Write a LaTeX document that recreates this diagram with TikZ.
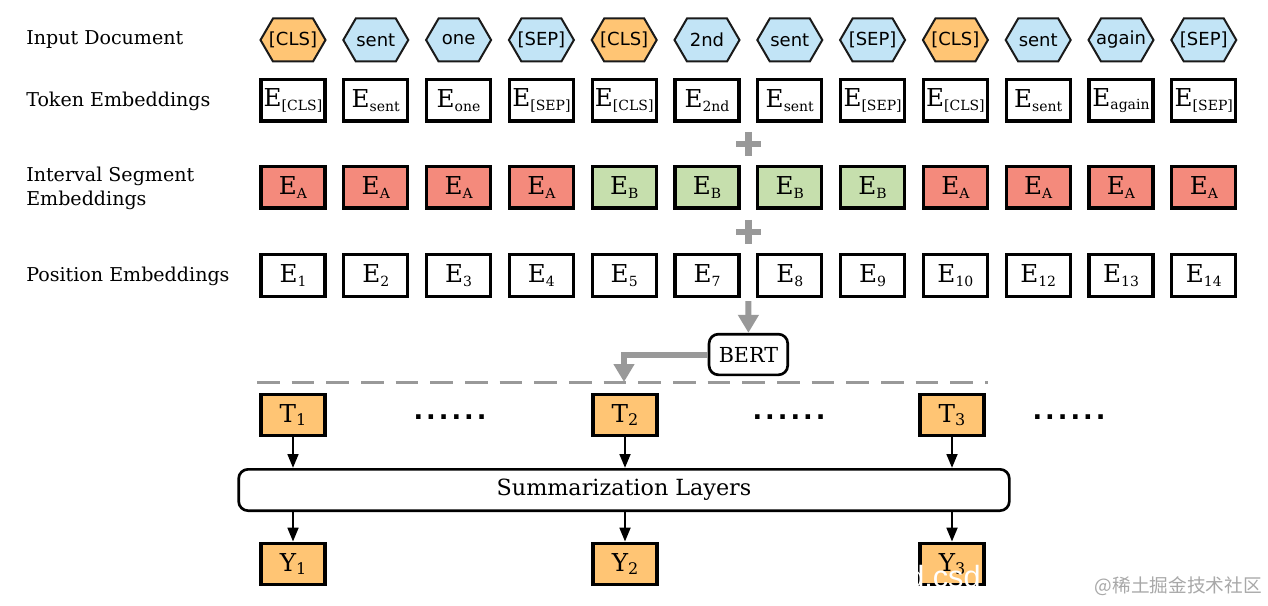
\documentclass[tikz,border=0pt]{standalone}
\usepackage{fontspec}
\setmainfont{DejaVu Serif}
\newfontfamily\hexfont{DejaVu Sans}
\newfontfamily\dotfont[LetterSpace=12]{DejaVu Sans}
\newfontfamily\cjkfont{Noto Sans CJK SC}
\newfontfamily\wmfont{Liberation Sans}
\usetikzlibrary{arrows.meta,calc}
\definecolor{orangeF}{HTML}{FFC574}
\definecolor{blueF}{HTML}{C2E4F6}
\definecolor{redF}{HTML}{F48A7C}
\definecolor{greenF}{HTML}{C6DFAD}
\definecolor{grayL}{HTML}{999999}
\definecolor{hexline}{HTML}{1A1A1A}
\definecolor{wmgray}{HTML}{A8A8A8}
\newcommand\Esub[2]{#1\raisebox{-2.8pt}{\fontsize{10.5}{13}\selectfont #2}}
\newcommand\Tsub[2]{#1\raisebox{-2.8pt}{\fontsize{12}{14}\selectfont #2}}
\begin{document}
\begin{tikzpicture}[x=0.75pt,y=-0.75pt,
  lbl/.style={anchor=west,font=\fontsize{14.3}{18}\selectfont,align=left,inner sep=0pt},
  ebox/.style={draw=black,line width=2.5pt,minimum width=48pt,minimum height=31pt,inner sep=0pt,font=\fontsize{18.5}{20}\selectfont},
  hexnode/.style={minimum width=50pt,minimum height=33pt,inner sep=0pt,font=\hexfont\fontsize{13.5}{16}\selectfont},
  hexshape/.style={draw=hexline,line width=1.5pt,line join=miter,fill=#1},
  garrow/.style={draw=grayL,line width=4.5pt,line join=miter,-{Triangle[length=13.5pt,width=15pt]}},
  barrow/.style={draw=black,line width=2pt,-{Triangle[length=10.5pt,width=8pt]}},
  rbox/.style={draw=black,line width=2pt,rounded corners=7pt,inner sep=0pt,fill=white},
  plusmark/.style={draw=grayL,line width=4.8pt},
  dotsnode/.style={font=\dotfont\bfseries\fontsize{19}{19}\selectfont,inner sep=0pt},
]
\useasboundingbox (0,0) rectangle (1268,606);
\fill[white] (0,0) rectangle (1268,606);

% row labels
\node[lbl] (l1) at (26,40) {Input Document};
\node[lbl] (l2) at (26,101) {Token Embeddings};
\node[lbl] (l3) at (26,188) {Interval Segment\\Embeddings};
\node[lbl] (l4) at (26,276) {Position Embeddings};

% columns
\foreach \i/\tok/\hc/\seg/\sc/\pos in {
  1/[CLS]/orangeF/A/redF/1,
  2/sent/blueF/A/redF/2,
  3/one/blueF/A/redF/3,
  4/[SEP]/blueF/A/redF/4,
  5/[CLS]/orangeF/B/greenF/5,
  6/2nd/blueF/B/greenF/7,
  7/sent/blueF/B/greenF/8,
  8/[SEP]/blueF/B/greenF/9,
  9/[CLS]/orangeF/A/redF/10,
  10/sent/blueF/A/redF/12,
  11/again/blueF/A/redF/13,
  12/[SEP]/blueF/A/redF/14}{
  \pgfmathsetmacro\xx{293+82.8*(\i-1)}
  \path[hexshape=\hc] (\xx-32.5,40) -- (\xx-20,18.5) -- (\xx+20,18.5) -- (\xx+32.5,40)
     -- (\xx+20,61.5) -- (\xx-20,61.5) -- cycle;
  \node[hexnode] (h\i) at (\xx,40) {\tok};
  \node[ebox] (t\i) at (\xx,100.5) {\Esub{E}{\tok}};
  \node[ebox,fill=\sc] (s\i) at (\xx,187.5) {\Esub{E}{\seg}};
  \node[ebox] (p\i) at (\xx,275.5) {\Esub{E}{\pos}};
}

% plus signs
\draw[plusmark] (748.4,132) -- (748.4,156) (736,144) -- (761,144);
\draw[plusmark] (748.4,220) -- (748.4,244) (736,232) -- (761,232);

% BERT
\coordinate (pm) at ($(p6.south)!0.5!(p7.south)$);
\node[rbox,minimum width=59pt,minimum height=30.5pt,font=\fontsize{15.5}{18}\selectfont] (bert) at (748.4,354.5) {BERT};
\draw[garrow] ([yshift=-2.5pt]pm) -- (bert.north);
\coordinate (dT) at (624,382);
\draw[grayL,line width=2.25pt,dash pattern=on 17pt off 9pt] (257,382) -- (988,382);
\draw[garrow] (bert.west) -| (dT);

% T boxes
\node[ebox,fill=orangeF] (T1) at (293,415) {\Tsub{T}{1}};
\node[ebox,fill=orangeF] (T2) at (625,415) {\Tsub{T}{2}};
\node[ebox,fill=orangeF] (T3) at (952,415) {\Tsub{T}{3}};
\node[dotsnode] (d1) at (450,417) {......};
\node[dotsnode] (d2) at (789,417) {......};
\node[dotsnode] (d3) at (1069,417) {......};

% summarization
\node[rbox,minimum width=578pt,minimum height=31pt,font=\fontsize{16.7}{20}\selectfont] (sum) at (624,490) {Summarization Layers};

\node[ebox,fill=orangeF] (Y1) at (293,564) {\Tsub{Y}{1}};
\node[ebox,fill=orangeF] (Y2) at (625,564) {\Tsub{Y}{2}};
\node[ebox,fill=orangeF] (Y3) at (952,564) {\Tsub{Y}{3}};

\foreach \k in {1,2,3}{
  \draw[barrow] (T\k.south) -- (T\k.south |- sum.north);
  \draw[barrow] (sum.south -| Y\k) -- (Y\k.north);
}

% watermarks
\node[anchor=base west,text=white,inner sep=0pt,font=\wmfont\fontsize{23}{26}\selectfont] (wm2) at (907,587) {d.csd};
\node[anchor=east,text=wmgray,inner sep=0pt,font=\cjkfont\fontsize{14}{16}\selectfont] (wm) at (1262,586) {@稀土掘金技术社区};
\end{tikzpicture}
\end{document}
